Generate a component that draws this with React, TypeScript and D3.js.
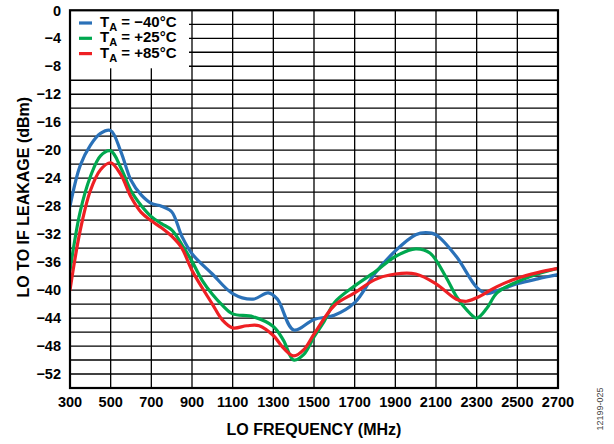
import React from "react";
import * as d3 from "d3";

const freqBlue = [300, 350, 400, 450, 500, 550, 600, 650, 700, 750, 800, 850, 900, 1000, 1100, 1200, 1275, 1320, 1400, 1500, 1600, 1700, 1800, 1900, 2000, 2050, 2100, 2200, 2300, 2350, 2400, 2500, 2600, 2700];
const valBlue = [-28.0, -22.2, -19.3, -17.6, -17.2, -20.2, -24.3, -26.4, -27.6, -28.0, -28.8, -32.3, -34.8, -37.7, -40.5, -41.3, -40.4, -41.3, -45.7, -44.2, -43.6, -41.8, -37.6, -34.4, -32.1, -31.8, -32.1, -35.2, -39.6, -40.5, -40.1, -39.1, -38.4, -37.8];

const freqGreen = [300, 350, 400, 450, 500, 550, 600, 650, 700, 750, 800, 850, 900, 950, 1000, 1050, 1100, 1200, 1300, 1350, 1400, 1450, 1500, 1550, 1600, 1700, 1800, 1900, 2000, 2070, 2150, 2200, 2250, 2300, 2350, 2400, 2500, 2600, 2700];
const valGreen = [-37.2, -28.8, -23.8, -20.8, -20.1, -22.5, -25.8, -27.9, -29.5, -30.5, -31.4, -33.5, -35.9, -38.6, -40.6, -42.2, -43.4, -43.8, -45.2, -47.2, -50.0, -49.2, -46.7, -44.5, -41.8, -39.4, -37.4, -35.2, -34.1, -34.7, -38.2, -40.9, -42.8, -44.0, -42.6, -40.4, -38.8, -37.7, -36.9];

const freqRed = [300, 350, 400, 450, 500, 550, 600, 650, 700, 750, 800, 850, 900, 1000, 1050, 1100, 1170, 1230, 1300, 1350, 1400, 1450, 1500, 1600, 1700, 1800, 1900, 2000, 2100, 2200, 2250, 2300, 2400, 2500, 2600, 2700];
const valRed = [-40.0, -31.5, -25.8, -22.8, -21.8, -23.5, -26.7, -28.9, -30.1, -31.1, -32.3, -34.0, -37.2, -42.0, -44.3, -45.4, -45.1, -45.1, -46.5, -48.3, -49.4, -48.5, -46.3, -42.2, -40.4, -38.5, -37.7, -37.7, -39.1, -41.3, -41.6, -41.1, -39.5, -38.3, -37.5, -36.9];

const xTicks = [300, 500, 700, 900, 1100, 1300, 1500, 1700, 1900, 2100, 2300, 2500, 2700];
const yTicks = [0, -4, -8, -12, -16, -20, -24, -28, -32, -36, -40, -44, -48, -52];
const legendTemps = ["−40°C", "+25°C", "+85°C"];
const seriesColors = ["#2a71b8", "#00a84f", "#ee2024"];

const W = 614;
const H = 444;
const L = 70, R = 558, T = 10.3, B = 388;

export default function App() {
  const x = d3.scaleLinear().domain([300, 2700]).range([L, R]);
  const y = d3.scaleLinear().domain([0, -54]).range([T, B]);
  const line = d3
    .line<[number, number]>()
    .x((d) => x(d[0]))
    .y((d) => y(d[1]))
    .curve(d3.curveCatmullRom.alpha(0.5));

  const series = [
    { f: freqBlue, v: valBlue },
    { f: freqGreen, v: valGreen },
    { f: freqRed, v: valRed },
  ];

  const xGrid = d3.range(300, 2701, 200);
  const yGrid = d3.range(0, -54.1, -2);
  const font = "Arial, 'Liberation Sans', Helvetica, sans-serif";

  return (
    <svg
      width={W}
      height={H}
      style={{ position: "absolute", left: 0, top: 0, background: "#fff" }}
      fontFamily={font}
    >
      <rect x={0} y={0} width={W} height={H} fill="#fff" />
      <defs>
        <clipPath id="plotclip">
          <rect x={L} y={T} width={R - L} height={B - T} />
        </clipPath>
      </defs>
      {/* grid */}
      {xGrid.map((g) => (
        <line key={"xg" + g} x1={x(g)} x2={x(g)} y1={T} y2={B} stroke="#000" strokeWidth={1.3} />
      ))}
      {yGrid.map((g) => (
        <line key={"yg" + g} x1={L} x2={R} y1={y(g)} y2={y(g)} stroke="#000" strokeWidth={1.3} />
      ))}
      {/* legend box */}
      <rect x={L} y={T} width={119} height={58} fill="#fff" />
      {/* series */}
      <g clipPath="url(#plotclip)">
        {series.map((s, i) => (
          <path
            key={i}
            d={line(s.f.map((f, j) => [f, s.v[j]] as [number, number])) || ""}
            fill="none"
            stroke={seriesColors[i]}
            strokeWidth={3.2}
            strokeLinejoin="round"
            strokeLinecap="round"
          />
        ))}
      </g>
      {/* frame */}
      <rect x={L} y={T} width={R - L} height={B - T} fill="none" stroke="#000" strokeWidth={2.2} />
      {/* legend */}
      {legendTemps.map((t, i) => {
        const by = 27 + i * 15.3;
        return (
          <g key={"lg" + i}>
            <line x1={79} x2={92} y1={by - 4} y2={by - 4} stroke={seriesColors[i]} strokeWidth={3.2} />
            <text x={100} y={by} fontSize={15} fontWeight="bold" fill="#000">
              T
              <tspan fontSize={11} dy={4}>A</tspan>
              <tspan dy={-4}>{" = " + t}</tspan>
            </text>
          </g>
        );
      })}
      {/* x ticks */}
      {xTicks.map((t) => (
        <text key={"xt" + t} x={x(t)} y={406.5} textAnchor="middle" fontSize={14.5} fontWeight="bold" fill="#000">
          {t}
        </text>
      ))}
      {/* y ticks */}
      {yTicks.map((t) => (
        <text key={"yt" + t} x={61} y={y(t)} dy="0.36em" textAnchor="end" fontSize={14.5} fontWeight="bold" fill="#000">
          {t === 0 ? "0" : "−" + Math.abs(t)}
        </text>
      ))}
      {/* axis titles */}
      <text x={314} y={435} textAnchor="middle" fontSize={16} fontWeight="bold" fill="#000">
        LO FREQUENCY (MHz)
      </text>
      <text
        transform={`translate(28.5, ${(T + B) / 2 - 2}) rotate(-90)`}
        textAnchor="middle"
        fontSize={16}
        fontWeight="bold"
        fill="#000"
      >
        LO TO IF LEAKAGE (dBm)
      </text>
      <text
        transform={`translate(603, 409) rotate(-90)`}
        textAnchor="middle"
        fontSize={9}
        fill="#444"
      >
        12199-025
      </text>
    </svg>
  );
}
